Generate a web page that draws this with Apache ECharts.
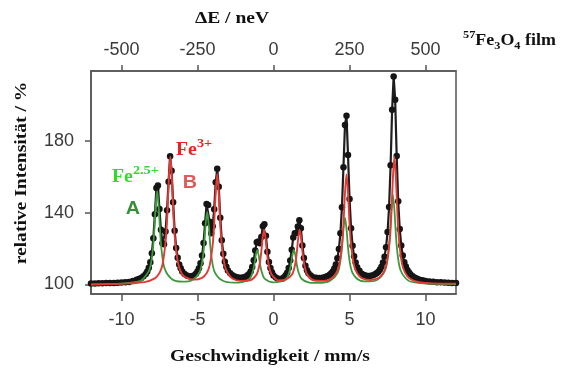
<!DOCTYPE html>
<html>
<head>
<meta charset="utf-8">
<script src="https://cdn.jsdelivr.net/npm/echarts@6/dist/echarts.min.js"></script>
<style>
html, body { margin: 0; padding: 0; background: #fff; }
#chart { width: 561px; height: 369px; }
</style>
</head>
<body>
<div id="chart"></div>
<script>
// tick labels
var velTicks = [-10, -5, 0, 5, 10];
var energyTicks = [-500, -250, 0, 250, 500];
var intensityTicks = [100, 140, 180];

// measured spectrum [v (mm/s), intensity (%)]
var measured = [
	[-12.0,100.6],[-11.75,100.6],[-11.5,100.7],[-11.25,100.7],[-11.0,100.8],[-10.75,100.8],[-10.5,100.9],[-10.25,101.0],
	[-10.0,101.1],[-9.75,101.2],[-9.5,101.4],[-9.25,101.9],[-9.0,102.6],[-8.85,103.0],[-8.7,103.6],[-8.55,104.6],
	[-8.4,105.9],[-8.3,107.3],[-8.2,109.4],[-8.1,112.4],[-8.0,117.4],[-7.9,125.8],[-7.8,139.1],[-7.7,153.8],
	[-7.6,155.2],[-7.5,142.1],[-7.4,130.5],[-7.3,123.0],[-7.2,122.5],[-7.1,129.5],[-7.0,141.4],[-6.9,157.3],
	[-6.8,171.5],[-6.7,163.4],[-6.6,145.8],[-6.5,130.0],[-6.4,120.4],[-6.3,114.9],[-6.2,111.2],[-6.1,109.0],
	[-6.0,107.2],[-5.85,105.9],[-5.7,105.0],[-5.55,104.6],[-5.4,104.5],[-5.25,105.0],[-5.1,106.0],[-5.0,107.3],
	[-4.9,109.0],[-4.8,111.8],[-4.7,116.1],[-4.6,123.1],[-4.5,134.1],[-4.4,144.8],[-4.3,144.3],[-4.2,135.0],
	[-4.1,128.5],[-4.0,132.5],[-3.9,142.0],[-3.8,157.0],[-3.7,164.5],[-3.6,154.5],[-3.5,137.2],[-3.4,124.7],
	[-3.3,117.2],[-3.2,112.7],[-3.1,109.9],[-3.0,107.8],[-2.85,106.3],[-2.7,105.1],[-2.55,104.4],[-2.4,104.0],
	[-2.25,103.8],[-2.1,103.8],[-1.95,104.0],[-1.8,104.5],[-1.7,105.1],[-1.6,105.9],[-1.5,107.3],[-1.4,109.7],
	[-1.3,113.5],[-1.2,119.0],[-1.1,123.5],[-1.0,124.0],[-0.9,123.0],[-0.8,126.5],[-0.7,132.5],[-0.6,133.6],
	[-0.5,127.1],[-0.4,118.3],[-0.3,112.6],[-0.2,109.2],[-0.1,106.8],[0.0,105.0],[0.15,103.9],[0.3,103.2],
	[0.45,103.1],[0.6,103.4],[0.7,104.0],[0.8,105.2],[0.9,106.5],[1.0,109.2],[1.1,113.4],[1.2,119.4],
	[1.3,126.2],[1.4,128.6],[1.5,128.7],[1.6,132.3],[1.7,135.8],[1.8,131.3],[1.9,121.8],[2.0,114.7],
	[2.1,110.4],[2.2,108.0],[2.3,106.2],[2.45,105.0],[2.6,104.1],[2.8,103.7],[3.0,103.6],[3.2,103.8],
	[3.4,104.2],[3.55,104.7],[3.7,105.4],[3.8,106.2],[3.9,107.3],[4.0,108.9],[4.1,111.2],[4.2,114.6],
	[4.3,119.8],[4.4,128.5],[4.5,143.0],[4.6,165.4],[4.7,188.9],[4.8,194.0],[4.9,172.2],[5.0,147.7],
	[5.1,131.4],[5.2,121.6],[5.3,115.7],[5.4,112.3],[5.5,109.6],[5.65,107.6],[5.8,106.0],[5.95,105.3],
	[6.1,104.9],[6.25,104.8],[6.4,104.9],[6.55,105.2],[6.7,105.8],[6.8,106.4],[6.9,107.1],[7.0,108.3],
	[7.1,109.9],[7.2,112.2],[7.3,115.5],[7.4,120.8],[7.5,129.2],[7.6,143.2],[7.7,166.5],[7.8,197.4],
	[7.9,216.0],[8.0,203.0],[8.1,171.6],[8.2,146.4],[8.3,131.0],[8.4,121.7],[8.5,116.1],[8.6,112.4],
	[8.7,110.0],[8.8,108.1],[8.9,106.8],[9.0,105.7],[9.15,104.6],[9.3,103.8],[9.45,103.2],[9.6,102.7],
	[9.8,102.3],[10.0,102.0],[10.25,101.7],[10.5,101.5],[10.75,101.3],[11.0,101.2],[11.25,101.1],[11.5,101.0],
	[11.75,100.9],[12.0,100.9]
];

// fit component A (Fe2.5+), green
var siteA = [
	[-12,100.1],[-10,100.5],[-9,101.4],[-8.65,102.5],[-8.15,108.5],[-7.95,118.3],[-7.85,128.6],[-7.75,143.2],
	[-7.65,152.2],[-7.55,143.2],[-7.45,128.6],[-7.35,118.4],[-7.15,108.7],[-6.65,102.8],[-6.0,101.6],[-5.36,102.4],
	[-4.86,106.9],[-4.66,114.3],[-4.56,122.2],[-4.46,133.5],[-4.36,140.4],[-4.26,133.4],[-4.16,122.1],[-4.06,114.2],
	[-3.86,106.7],[-3.36,102.2],[-2.6,101.0],[-2.07,101.3],[-1.57,103.1],[-1.37,106.9],[-1.27,110.6],[-1.17,116.0],
	[-1.07,119.2],[-0.97,116.0],[-0.87,110.6],[-0.77,106.9],[-0.57,103.1],[0.0,101.2],[0.84,103.2],[1.04,107.0],
	[1.14,110.7],[1.24,116.1],[1.34,119.3],[1.44,116.1],[1.54,110.7],[1.64,107.0],[1.84,103.2],[2.35,101.1],
	[3.0,100.9],[3.7,102.0],[4.2,106.2],[4.4,113.2],[4.5,120.5],[4.6,130.9],[4.7,137.2],[4.8,130.9],
	[4.9,120.5],[5.0,113.3],[5.2,106.4],[5.7,102.2],[6.3,101.7],[6.85,102.7],[7.35,108.3],[7.55,117.6],
	[7.65,127.5],[7.75,141.6],[7.85,150.1],[7.95,141.5],[8.05,127.4],[8.15,117.5],[8.35,108.1],[8.85,102.3],
	[9.5,100.9],[10.5,100.3],[12,100.1]
];

// fit component B (Fe3+), red
var siteB = [
	[-12,99.9],[-10.5,100.3],[-9.5,100.6],[-8.5,101.3],[-7.8,103.4],[-7.5,106.4],[-7.3,111.0],[-7.08,125.2],
	[-6.98,139.2],[-6.88,159.2],[-6.78,171.3],[-6.68,159.2],[-6.58,139.3],[-6.48,125.4],[-6.28,112.0],[-6.03,106.0],
	[-5.78,104.0],[-5.2,102.7],[-4.7,103.7],[-4.4,106.3],[-4.2,110.5],[-4.0,122.0],[-3.9,134.0],[-3.8,151.2],
	[-3.7,161.5],[-3.6,151.1],[-3.5,133.8],[-3.4,121.9],[-3.2,110.4],[-3.0,106.3],[-2.7,103.3],[-2.2,102.0],
	[-1.62,102.2],[-1.12,105.5],[-0.92,111.1],[-0.82,117.0],[-0.72,125.5],[-0.62,130.6],[-0.52,125.5],[-0.42,117.0],
	[-0.32,111.1],[-0.12,105.6],[0.36,102.3],[0.8,102.7],[1.22,105.6],[1.42,111.1],[1.52,117.0],[1.62,125.5],
	[1.72,130.6],[1.82,125.5],[1.92,117.0],[2.02,111.2],[2.22,105.5],[2.7,102.2],[3.3,102.0],[3.8,103.3],
	[4.1,106.0],[4.3,110.3],[4.5,121.8],[4.6,133.8],[4.7,151.0],[4.8,161.4],[4.9,151.0],[5.0,133.8],
	[5.1,121.9],[5.3,110.5],[5.5,106.2],[5.8,103.6],[6.4,102.5],[6.95,103.9],[7.25,106.8],[7.45,111.9],
	[7.65,125.2],[7.75,139.2],[7.85,159.2],[7.95,171.3],[8.05,159.1],[8.15,139.0],[8.25,125.0],[8.45,111.6],
	[8.65,106.6],[8.95,103.3],[9.5,101.4],[10.5,100.6],[12,100.5]
];

var chart = echarts.init(document.getElementById('chart'));
var axisColor = '#555';
var labelColor = '#3a3a3a';
var serif = '"Liberation Serif", "Times New Roman", serif';
var sans = '"Liberation Sans", Arial, sans-serif';

function axisStyle(ticks, pos, tickLen, margin) {
	return {
		type: 'value',
		position: pos,
		axisLine: { show: true, onZero: false, lineStyle: { color: axisColor, width: 1.5 } },
		axisTick: { show: true, customValues: ticks, length: tickLen, lineStyle: { color: axisColor, width: 1.5 } },
		axisLabel: { show: true, customValues: ticks, margin: margin, fontSize: 18, fontFamily: sans, color: labelColor },
		splitLine: { show: false }
	};
}

var xBottom = axisStyle(velTicks, 'bottom', 7, 17);
xBottom.min = -12; xBottom.max = 12;
var xTop = axisStyle(energyTicks, 'top', 6, 12);
xTop.min = -600; xTop.max = 600;
var yLeft = axisStyle(intensityTicks, 'left', 6, 17);
yLeft.min = 94.7; yLeft.max = 219;

var option = {
	animation: false,
	grid: {
		left: 91, right: 105, top: 71, bottom: 75,
		containLabel: false, outerBoundsMode: 'none',
		show: true, borderColor: axisColor, borderWidth: 1.5
	},
	xAxis: [xBottom, xTop],
	yAxis: [yLeft],
	series: [{
			type: 'line',
			silent: true,
			data: measured,
			symbol: 'circle',
			symbolSize: 6.5,
			itemStyle: { color: '#151515' },
			lineStyle: { color: '#1e1e1e', width: 2.2 },
			z: 2
		},
		{
			type: 'line',
			silent: true,
			data: siteA,
			showSymbol: false,
			smooth: 0.3,
			lineStyle: { color: '#3c9a3c', width: 1.8 },
			z: 3
		},
		{
			type: 'line',
			silent: true,
			data: siteB,
			showSymbol: false,
			smooth: 0.3,
			lineStyle: { color: '#e23b36', width: 1.9 },
			z: 4
		}
	],
	graphic: [{
			type: 'text', x: 232, y: 19, scaleX: 1.15,
			style: { text: 'ΔE / neV', font: 'bold 17px ' + serif, fill: '#111', align: 'center', verticalAlign: 'middle' }
		},
		{
			type: 'text', x: 463, y: 41, scaleX: 1.12,
			style: {
				text: '{s|57}{b|Fe}{d|3}{b|O}{d|4}{b| film}',
				align: 'left', verticalAlign: 'middle',
				rich: {
					b: { fontSize: 16, fontWeight: 'bold', fontFamily: serif, fill: '#111', lineHeight: 22, verticalAlign: 'middle' },
					s: { fontSize: 11, fontWeight: 'bold', fontFamily: serif, fill: '#111', verticalAlign: 'top' },
					d: { fontSize: 11, fontWeight: 'bold', fontFamily: serif, fill: '#111', verticalAlign: 'bottom' }
				}
			}
		},
		{
			type: 'text', x: 22, y: 173, rotation: Math.PI / 2, scaleX: 1.15,
			style: { text: 'relative Intensität / %', font: 'bold 17px ' + serif, fill: '#111', align: 'center', verticalAlign: 'middle' }
		},
		{
			type: 'text', x: 270, y: 357, scaleX: 1.15,
			style: { text: 'Geschwindigkeit / mm/s', font: 'bold 17px ' + serif, fill: '#111', align: 'center', verticalAlign: 'middle' }
		},
		{
			type: 'text', x: 112, y: 177, scaleX: 1.1,
			style: {
				text: '{b|Fe}{s|2.5+}',
				align: 'left', verticalAlign: 'middle',
				rich: {
					b: { fontSize: 18, fontWeight: 'bold', fontFamily: serif, fill: '#2edc2e', lineHeight: 26, verticalAlign: 'middle' },
					s: { fontSize: 13, fontWeight: 'bold', fontFamily: serif, fill: '#2edc2e', verticalAlign: 'top' }
				}
			}
		},
		{
			type: 'text', x: 176, y: 150, scaleX: 1.1,
			style: {
				text: '{b|Fe}{s|3+}',
				align: 'left', verticalAlign: 'middle',
				rich: {
					b: { fontSize: 18, fontWeight: 'bold', fontFamily: serif, fill: '#ee2020', lineHeight: 26, verticalAlign: 'middle' },
					s: { fontSize: 13, fontWeight: 'bold', fontFamily: serif, fill: '#ee2020', verticalAlign: 'top' }
				}
			}
		},
		{
			type: 'text', x: 133, y: 209, scaleX: 1.1,
			style: { text: 'A', font: 'bold 18px ' + sans, fill: '#3a8f3a', align: 'center', verticalAlign: 'middle' }
		},
		{
			type: 'text', x: 190, y: 183, scaleX: 1.1,
			style: { text: 'B', font: 'bold 18px ' + sans, fill: '#e05a5a', align: 'center', verticalAlign: 'middle' }
		}
	]
};
chart.setOption(option);
</script>
</body>
</html>
